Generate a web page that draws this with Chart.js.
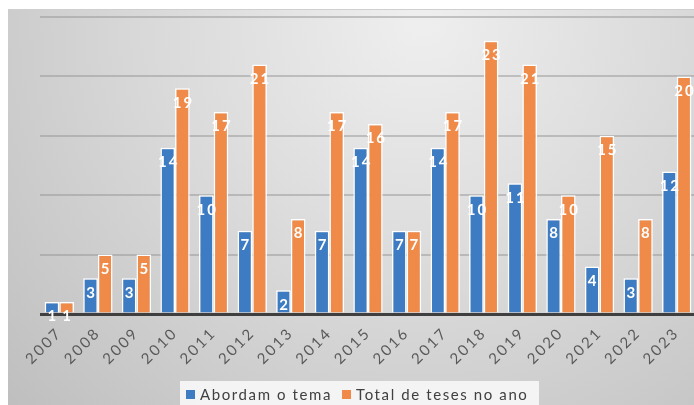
<!DOCTYPE html>
<html>
<head>
<meta charset="utf-8">
<script src="https://cdn.jsdelivr.net/npm/chart.js@4.4.1/dist/chart.umd.min.js"></script>
<style>
  html, body { margin: 0; padding: 0; overflow: hidden; background: #fff; width: 694px; height: 405px; }
  #wrap { position: absolute; left: 0; top: 0; width: 700px; height: 405px; }
</style>
</head>
<body>
<div id="wrap"><canvas id="c"></canvas></div>
<script>
// Theses per year: those addressing the topic vs. total defended
const years = ['2007','2008','2009','2010','2011','2012','2013','2014','2015','2016','2017','2018','2019','2020','2021','2022','2023'];
const abordam = [1, 3, 3, 14, 10, 7, 2, 7, 14, 7, 14, 10, 11, 8, 4, 3, 12];
const totalTeses = [1, 5, 5, 19, 17, 21, 8, 17, 16, 7, 17, 23, 21, 10, 15, 8, 20];
const seriesNames = ['Abordam o tema', 'Total de teses no ano'];
const yMin = 0, yMax = 25, yStep = 5;

const BLUE = '#3d7bc2';
const ORANGE = '#f08a48';

// Soft grey panel behind the plot
const panelBackground = {
  id: 'panelBackground',
  beforeDraw(chart) {
    const ctx = chart.ctx;
    ctx.save();
    ctx.fillStyle = '#ffffff';
    ctx.fillRect(0, 0, chart.width, chart.height);
    const g = ctx.createRadialGradient(420, 20, 10, 420, 20, 560);
    g.addColorStop(0, '#eeeeee');
    g.addColorStop(0.5, '#d8d8d8');
    g.addColorStop(1, '#bfbfbf');
    ctx.fillStyle = g;
    ctx.fillRect(8, 9, chart.width - 8, chart.height - 9);
    ctx.fillStyle = '#cfcfcf';
    ctx.fillRect(8, 9, chart.width - 8, 1);
    ctx.restore();
    ctx.letterSpacing = '2.3px';
  }
};

// White value labels just inside the top of each bar
const barValues = {
  id: 'barValues',
  afterDatasetsDraw(chart) {
    const ctx = chart.ctx;
    ctx.save();
    ctx.font = 'bold 15px Lato, "Open Sans", sans-serif';
    ctx.letterSpacing = '2px';
    ctx.fillStyle = '#ffffff';
    ctx.textAlign = 'center';
    ctx.textBaseline = 'middle';
    chart.data.datasets.forEach((ds, i) => {
      const meta = chart.getDatasetMeta(i);
      meta.data.forEach((bar, j) => {
        ctx.fillText(String(ds.data[j]), bar.x + 1, bar.y + 14.5);
      });
    });
    ctx.restore();
  }
};

// Legend in a light box along the bottom edge
const boxedLegend = {
  id: 'boxedLegend',
  afterDraw(chart) {
    const ctx = chart.ctx;
    const box = { x: 180, y: 381, w: 359, h: 24 };
    ctx.save();
    ctx.fillStyle = 'rgba(246,246,246,0.95)';
    ctx.fillRect(box.x, box.y, box.w, box.h);
    ctx.font = '15px Lato, "Open Sans", sans-serif';
    ctx.letterSpacing = '1.6px';
    ctx.textBaseline = 'middle';
    ctx.textAlign = 'left';
    let x = box.x + 6;
    const cy = box.y + 14;
    chart.data.datasets.forEach((ds) => {
      ctx.fillStyle = ds.backgroundColor;
      ctx.fillRect(x, cy - 5, 9, 9);
      x += 14;
      ctx.fillStyle = '#404040';
      ctx.fillText(ds.label, x, cy);
      x += ctx.measureText(ds.label).width + 10;
    });
    ctx.restore();
  }
};

new Chart(document.getElementById('c'), {
  type: 'bar',
  data: {
    labels: years,
    datasets: [
      { label: seriesNames[0], data: abordam, backgroundColor: BLUE, borderColor: '#ffffff', borderWidth: 1.5 },
      { label: seriesNames[1], data: totalTeses, backgroundColor: ORANGE, borderColor: '#ffffff', borderWidth: 1.5 }
    ]
  },
  options: {
    responsive: true,
    maintainAspectRatio: false,
    devicePixelRatio: 1,
    animation: false,
    layout: { padding: { left: 40, right: 4, top: 17, bottom: 0 } },
    datasets: { bar: { barPercentage: 1, categoryPercentage: 0.76 } },
    plugins: { legend: { display: false }, tooltip: { enabled: false } },
    scales: {
      x: {
        grid: { display: false, drawTicks: false },
        border: { display: false },
        ticks: {
          minRotation: 45, maxRotation: 45, padding: 10,
          color: '#595959',
          font: { family: 'Lato, "Open Sans", sans-serif', size: 15 }
        },
        afterFit(s) { s.height = 91; }
      },
      y: {
        min: yMin, max: yMax,
        ticks: { display: false, stepSize: yStep },
        border: { display: false },
        grid: {
          drawTicks: false,
          color: (c) => c.tick.value === 0 ? '#3f3f3f' : 'rgba(150,150,150,0.5)',
          lineWidth: (c) => c.tick.value === 0 ? 3 : 2
        },
        afterFit(s) { s.width = 0; }
      }
    }
  },
  plugins: [panelBackground, barValues, boxedLegend]
});
</script>
</body>
</html>
